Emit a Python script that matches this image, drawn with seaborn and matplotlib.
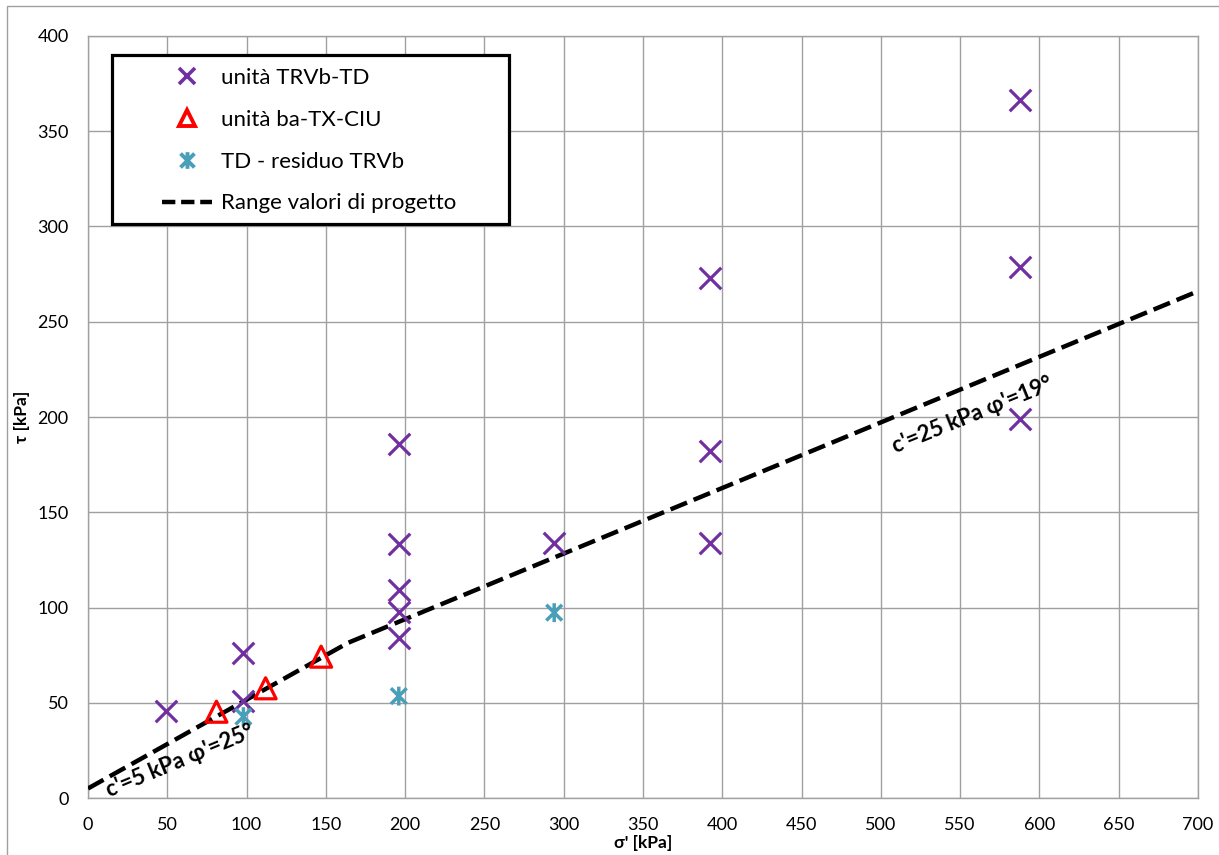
import numpy as np
import pandas as pd
import matplotlib
matplotlib.use("Agg")
import matplotlib.pyplot as plt
from matplotlib.lines import Line2D
from matplotlib.patches import Rectangle
from matplotlib.path import Path
import seaborn as sns

# --- data -------------------------------------------------------------
# unità TRVb-TD (taglio diretto)
trvb_sigma = [49, 98, 98, 196, 196, 196, 196, 196, 294, 392, 392, 392, 588, 588, 588]
trvb_tau = [45.5, 76.3, 50.9, 185.7, 133.5, 109.2, 97.8, 84.0, 134.0,
            272.8, 182.3, 134.0, 366.2, 278.9, 198.8]

# unità ba-TX-CIU (triassiali)
ciu_sigma = [81, 112, 147]
ciu_tau = [45.3, 57.6, 74.2]

# TD - residuo TRVb
res_sigma = [98, 196, 294]
res_tau = [42.7, 53.5, 97.3]

# design envelopes (c' in kPa, phi' in degrees)
env_c = [5, 25]
env_phi = [25, 19]
sigma_max = 700

x_ticks = list(range(0, 701, 50))
y_ticks = list(range(0, 401, 50))

PURPLE = "#7030A0"
RED = "#FF0000"
TEAL = "#4A9FB8"
GRID = "#A0A0A0"

# --- envelope: lower of the two Mohr-Coulomb lines ---------------------
t1, t2 = np.tan(np.radians(env_phi[0])), np.tan(np.radians(env_phi[1]))
sigma_break = (env_c[1] - env_c[0]) / (t1 - t2)
env_sigma = np.array([0.0, sigma_break, sigma_max])
env_tau = np.minimum(env_c[0] + t1 * env_sigma, env_c[1] + t2 * env_sigma)
env_df = pd.DataFrame({"sigma": env_sigma, "tau": env_tau})

# --- style ------------------------------------------------------------
sns.set_theme(style="whitegrid")
plt.rcParams["font.family"] = ["Lato", "DejaVu Sans"]
plt.rcParams["text.color"] = "black"
plt.rcParams["axes.labelcolor"] = "black"
plt.rcParams["xtick.color"] = "black"
plt.rcParams["ytick.color"] = "black"

W, H = 1219, 855
fig = plt.figure(figsize=(W / 100, H / 100), dpi=100)
ax = fig.add_axes([88 / W, 1 - 798 / H, 1110 / W, 762 / H])

# asterisk marker: X with a vertical bar
ast = Path([(-1, -1), (1, 1), (-1, 1), (1, -1), (0, -1.2), (0, 1.2)],
           [Path.MOVETO, Path.LINETO, Path.MOVETO, Path.LINETO, Path.MOVETO, Path.LINETO])

dash = (0, (4.0, 1.6))

sns.lineplot(data=env_df, x="sigma", y="tau", ax=ax, color="black",
             linewidth=3.2, linestyle=dash, errorbar=None, sort=False, zorder=3)

sns.scatterplot(x=trvb_sigma, y=trvb_tau, ax=ax, marker="x", color=PURPLE,
                s=240, linewidth=2.3, zorder=4)
sns.scatterplot(x=ciu_sigma, y=ciu_tau, ax=ax, marker="^", facecolor="none",
                edgecolor=RED, s=230, linewidth=2.3, zorder=4)
sns.scatterplot(x=res_sigma, y=res_tau, ax=ax, marker=ast, facecolor="none",
                edgecolor=TEAL, s=185, linewidth=2.5, zorder=4)

# --- axes -------------------------------------------------------------
ax.set_xlim(0, 700)
ax.set_ylim(0, 400)
ax.set_xticks(x_ticks)
ax.set_yticks(y_ticks)
ax.grid(True, color=GRID, linewidth=1.0)
for sp in ax.spines.values():
    sp.set_color(GRID)
    sp.set_linewidth(1.0)
ax.tick_params(axis="x", length=3.5, width=1.0, color=GRID, direction="out",
               pad=10.5, labelsize=13)
ax.tick_params(axis="y", length=0, pad=14, labelsize=13)
ax.set_xlabel("σ' [kPa]", fontsize=12.5, fontweight="bold", labelpad=1)
ax.set_ylabel("τ [kPa]", fontsize=12.5, fontweight="bold", labelpad=5)

# envelope labels
ax.text(58.0, 19.5, "c'=5 kPa φ'=25°", rotation=22.5, ha="center", va="center",
        fontsize=16, fontweight="bold", rotation_mode="anchor", zorder=5)
ax.text(558.0, 201, "c'=25 kPa φ'=19°", rotation=22, ha="center", va="center",
        fontsize=16, fontweight="bold", rotation_mode="anchor", zorder=5)

# --- legend -----------------------------------------------------------
ax.add_patch(Rectangle((24 / 1110, 574 / 762), 397 / 1110, 169 / 762,
                       transform=ax.transAxes, facecolor="white",
                       edgecolor="black", linewidth=2.3, zorder=6))
handles = [
    Line2D([], [], ls="none", marker="x", color=PURPLE, markersize=12, mew=2.6),
    Line2D([], [], ls="none", marker="^", markerfacecolor="none",
           markeredgecolor=RED, markersize=11, mew=2.8),
    Line2D([], [], ls="none", marker=ast, markerfacecolor="none",
           markeredgecolor=TEAL, markersize=12, mew=2.8),
    Line2D([], [], color="black", linewidth=3.2, linestyle=(0, (3.0, 1.3))),
]
labels = ["unità TRVb-TD", "unità ba-TX-CIU", "TD - residuo TRVb",
          "Range valori di progetto"]
leg = ax.legend(handles, labels, loc="upper left",
                bbox_to_anchor=(74 / 1110, (798 - 68) / 762),
                frameon=False, fontsize=16, borderpad=0, borderaxespad=0,
                handlelength=2.25, handletextpad=0.4, labelspacing=0.98)
leg.set_zorder(7)

# outer chart border
fig.add_artist(Rectangle((7 / W, -0.1), 1.2, (H - 6) / H + 0.1,
                         transform=fig.transFigure, fill=False,
                         edgecolor=GRID, linewidth=1.0))

fig.savefig("out.png", dpi=100)
